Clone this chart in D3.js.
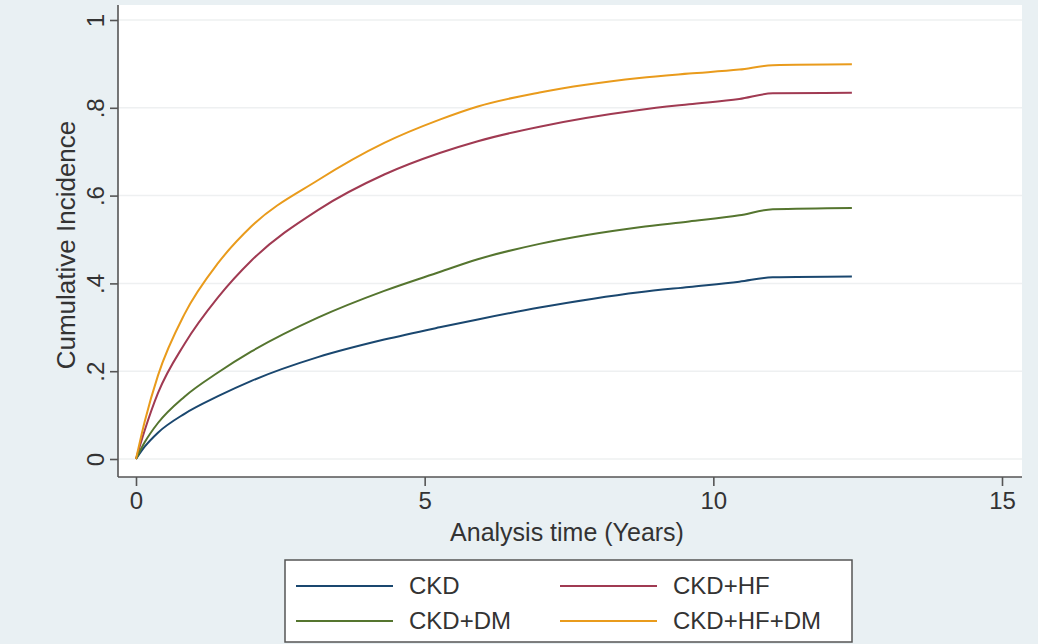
<!DOCTYPE html>
<html>
<head>
<meta charset="utf-8">
<script src="https://cdn.jsdelivr.net/npm/d3@7"></script>
<style>
  body { margin: 0; background: #e9f0f3; }
  svg { display: block; font-family: "Liberation Sans", Arial, sans-serif; }
</style>
</head>
<body>
<svg width="1038" height="644"></svg>
<script>
// Values
const times = [0, 0.15, 0.38, 0.84, 1.42, 2.0, 3.15, 4.3, 5.26, 5.92, 6.99, 8.72, 9.58, 10.45, 11.03, 12.4];
const ckd = [0, 0.028, 0.06, 0.103, 0.143, 0.178, 0.232, 0.272, 0.3, 0.318, 0.345, 0.38, 0.392, 0.404, 0.414, 0.416];
const ckdDm = [0, 0.038, 0.082, 0.142, 0.197, 0.245, 0.322, 0.383, 0.426, 0.455, 0.49, 0.528, 0.541, 0.555, 0.569, 0.572];
const ckdHf = [0, 0.065, 0.15, 0.262, 0.368, 0.452, 0.567, 0.648, 0.697, 0.724, 0.757, 0.795, 0.808, 0.82, 0.833, 0.834];
const ckdHfDm = [0, 0.085, 0.19, 0.33, 0.446, 0.53, 0.635, 0.72, 0.773, 0.803, 0.835, 0.868, 0.878, 0.887, 0.897, 0.899];

const seriesNames = ["CKD", "CKD+HF", "CKD+DM", "CKD+HF+DM"];
const seriesColors = ["#1a476f", "#a03a52", "#55752f", "#e99b1c"];
const xTicks = [0, 5, 10, 15];
const yTicks = [0, 0.2, 0.4, 0.6, 0.8, 1];
const yTickLabels = ["0", ".2", ".4", ".6", ".8", "1"];

const series = [
  { name: "CKD", values: ckd },
  { name: "CKD+HF", values: ckdHf },
  { name: "CKD+DM", values: ckdDm },
  { name: "CKD+HF+DM", values: ckdHfDm }
];

let x = d3.scaleLinear().domain([0, 15]).range([136, 1002]);
let y = d3.scaleLinear().domain([0, 1]).range([459, 20]);
let color = d3.scaleOrdinal().domain(seriesNames).range(seriesColors);

let svg = d3.select("svg");

// plot region
svg.append("rect")
  .attr("x", 118).attr("y", 5)
  .attr("width", 1022 - 118).attr("height", 477 - 5)
  .style("fill", "white");

// grid lines
svg.append("g")
  .selectAll("line")
  .data(yTicks)
  .enter()
  .append("line")
  .attr("x1", 118).attr("x2", 1022)
  .attr("y1", d => y(d)).attr("y2", d => y(d))
  .style("stroke", "#eef0f1")
  .style("stroke-width", 1.5);

// axes
let xAxis = d3.axisBottom(x).tickValues(xTicks).tickSize(9).tickPadding(6).tickSizeOuter(0);
let yAxis = d3.axisLeft(y).tickValues(yTicks).tickSize(8).tickSizeOuter(0)
  .tickFormat((d, i) => yTickLabels[i]);

let gx = svg.append("g")
  .attr("transform", "translate(0, 477)")
  .call(xAxis);
gx.select(".domain").attr("d", "M118,0H1022");
gx.selectAll("text").style("font-size", "24px").style("fill", "#333");

let gy = svg.append("g")
  .attr("transform", "translate(118, 0)")
  .call(yAxis);
gy.select(".domain").attr("d", "M0,5V477");
gy.selectAll("text")
  .attr("x", null).attr("dy", null)
  .attr("transform", "translate(-14,0) rotate(-90)")
  .style("text-anchor", "middle")
  .style("font-size", "24px")
  .style("fill", "#333");

svg.selectAll(".domain, .tick line").style("stroke", "#555").style("stroke-width", 1.6);

// axis titles
svg.append("text")
  .attr("x", 567).attr("y", 541)
  .style("text-anchor", "middle")
  .style("font-size", "25px")
  .style("fill", "#333")
  .text("Analysis time (Years)");

svg.append("text")
  .attr("transform", "translate(75, 245) rotate(-90)")
  .style("text-anchor", "middle")
  .style("font-size", "26px")
  .style("fill", "#333")
  .text("Cumulative Incidence");

// curves
let line = d3.line()
  .x((d, i) => x(times[i]))
  .y(d => y(d))
  .curve(d3.curveMonotoneX);

svg.append("g")
  .selectAll("path")
  .data(series)
  .enter()
  .append("path")
  .attr("d", d => line(d.values))
  .style("fill", "none")
  .style("stroke", d => color(d.name))
  .style("stroke-width", 2);

// legend
svg.append("rect")
  .attr("x", 285).attr("y", 560)
  .attr("width", 852 - 285).attr("height", 82)
  .style("fill", "white")
  .style("stroke", "#555")
  .style("stroke-width", 1.5);

const legendX = [296, 560];
const legendY = [586, 621];
let items = svg.append("g")
  .selectAll("g")
  .data(series)
  .enter()
  .append("g")
  .attr("transform", (d, i) => "translate(" + legendX[i % 2] + "," + legendY[Math.floor(i / 2)] + ")");

items.append("line")
  .attr("x1", 0).attr("x2", 97)
  .style("stroke", d => color(d.name))
  .style("stroke-width", 2);

items.append("text")
  .attr("x", 113).attr("dy", "0.35em")
  .style("font-size", "24px")
  .style("fill", "#333")
  .text(d => d.name);
</script>
</body>
</html>
